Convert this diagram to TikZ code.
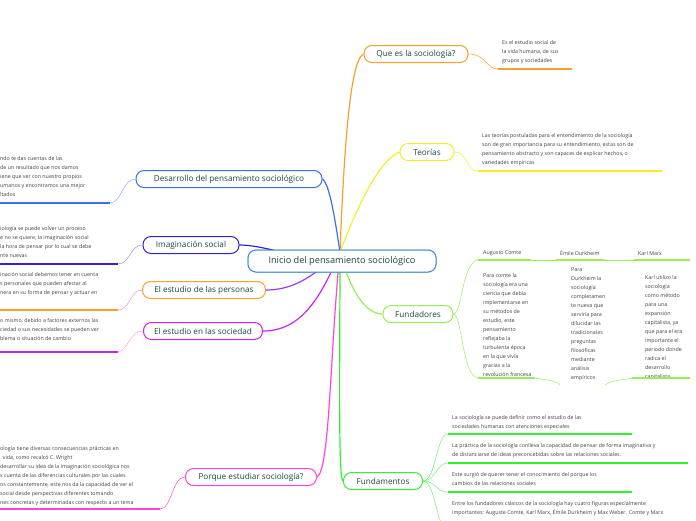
\documentclass[tikz,border=0pt]{standalone}
\usepackage{fontspec}
\setmainfont{Open Sans}
\usetikzlibrary{positioning}
\definecolor{cblue}{HTML}{3A70EE}
\definecolor{cindigo}{HTML}{3322DD}
\definecolor{corange}{HTML}{F7A12B}
\definecolor{cpurple}{HTML}{CC22EE}
\definecolor{cpink}{HTML}{FF44DD}
\definecolor{cyellow}{HTML}{F2EE2A}
\definecolor{clime}{HTML}{99EE55}
\definecolor{cgreen}{HTML}{33EE33}
\definecolor{croot}{HTML}{4A90D0}
\definecolor{ctext}{HTML}{1B4A3C}
\tikzset{topic/.style={draw,rounded corners=8pt,line width=1pt,fill=white,
                       text=ctext,font=\fontsize{8.2}{9}\selectfont,minimum height=17pt,inner xsep=8pt}}
\tikzset{leaf/.style={anchor=north west,align=left,inner sep=0pt,text=black!75,
                      font=\fontsize{5.3}{9}\selectfont}}

\begin{document}
\begin{tikzpicture}[x=1pt,y=-1pt,
    branch/.style={line width=1.2pt},
    twig/.style={line width=0.5pt},
    bar/.style={line width=1.6pt}
  ]
    \useasboundingbox (0,0) rectangle (696,520);
    \coordinate (hub) at (340,252);
    \coordinate (hubl) at (300,258);

    % topics
    \node[topic,draw=croot,minimum width=188pt,minimum height=22pt,font=\fontsize{9.2}{10}\selectfont] (main) at (342,261) {Inicio del pensamiento sociológico};
    \node[topic,draw=corange,minimum width=104pt] (que) at (416,54) {Que es la sociología?};
    \node[topic,draw=cyellow,minimum width=54pt] (teo) at (427,152) {Teorías};
    \node[topic,draw=clime,minimum width=70pt] (fundad) at (418,314) {Fundadores};
    \node[topic,draw=cgreen,minimum width=79pt] (fundam) at (383,481) {Fundamentos};
    \node[topic,draw=cblue,minimum width=186pt] (desa) at (229,179) {Desarrollo del pensamiento sociológico};
    \node[topic,draw=cindigo,minimum width=96pt] (imag) at (191,245) {Imaginación social};
    \node[topic,draw=corange,minimum width=123pt] (pers) at (204,290) {El estudio de las personas};
    \node[topic,draw=cpurple,minimum width=119pt] (soc) at (203,331) {El estudio en las sociedad};
    \node[topic,draw=cpink,minimum width=131pt] (porq) at (251,477) {Porque estudiar sociología?};

    % branches from the centre
    \draw[branch,corange] (hub) .. controls (344,150) and (350,60) .. (que.west);
    \draw[branch,cyellow] (hub) .. controls (360,200) and (380,160) .. (teo.west);
    \draw[branch,clime] (hub) .. controls (350,290) and (365,314) .. (fundad.west);
    \draw[branch,cgreen] (hub) .. controls (340,350) and (338,481) .. (fundam.west);
    \draw[branch,cblue] (hub) .. controls (335,220) and (330,185) .. (desa.east);
    \draw[branch,cindigo] (hubl) .. controls (270,248) and (250,245) .. (imag.east);
    \draw[branch,cpurple!70!cblue] (hub) .. controls (310,280) and (290,290) .. (pers.east);
    \draw[branch,cpurple] (hub) .. controls (320,300) and (300,331) .. (soc.east);
    \draw[branch,cpink] (hub) .. controls (330,350) and (330,470) .. (porq.east);
    \node[topic,draw=croot,minimum width=188pt,minimum height=22pt,font=\fontsize{9.2}{10}\selectfont] (mainfront) at (main) {Inicio del pensamiento sociológico};

    % right side leaves
    \node[leaf] (queT) at (502,40) {Es el estudio social de\\la vida humana, de sus\\grupos y sociedades};
    \coordinate (queA) at (498,69); \coordinate (queB) at (572,69);
    \draw[twig,corange] (que.east) .. controls (486,54) and (486,69) .. (queA);
    \draw[bar,corange] (queA) -- (queB);

    \node[leaf] (teoT) at (482,133) {Las teorías postuladas para el entendimiento de la sociología\\son de gran importancia para su entendimiento, estas son de\\pensamiento abstracto y son capaces de explicar hechos, o\\variedades  empíricas};
    \coordinate (teoA) at (478,171); \coordinate (teoB) at (662,171);
    \draw[twig,cyellow] (teo.east) .. controls (468,152) and (466,171) .. (teoA);
    \draw[bar,cyellow] (teoA) -- (teoB);

    % founders
    \node[leaf] (comte) at (483,250) {Augusto Comte};
    \node[leaf] (durk) at (560,250) {Émile Durkheim};
    \node[leaf] (marx) at (638,251) {Karl Marx};
    \draw[bar,clime] (478,260) -- (531,260);
    \draw[bar,clime] (556,260) -- (604,260);
    \draw[bar,clime] (634,260) -- (690,260);
    \draw[twig,clime] (531,260) -- (556,260) (604,260) -- (634,260);
    \node[leaf] (comteT) at (483,273) {Para comte la\\sociología era una\\ciencia que debía\\implementarse en\\su métodos de\\estudio, este\\pensamiento\\reflejaba la\\turbulenta época\\en la que vivía\\gracias a la\\revolución francesa};
    \node[leaf] (durkT) at (571,268) {Para\\Durkheim la\\sociología\\completamen\\te nueva que\\serviría para\\dilucidar las\\tradicionales\\preguntas\\filosóficas\\mediante\\análisis\\empíricos};
    \node[leaf] (marxT) at (645,275) {Karl utilizo la\\sociología\\como método\\para una\\expansión\\capitalista, ya\\que para el era\\importante el\\periodo donde\\radica el\\desarrollo\\capitalista};
    \draw[bar,clime] (478,378) -- (535,378);
    \draw[bar,clime] (632,378) -- (690,378);
    \draw[twig,clime] (535,378) .. controls (545,380) and (555,380) .. (560,385);
    \draw[twig,clime] (632,378) .. controls (622,380) and (612,380) .. (605,385);
    \draw[twig,clime] (fundad.east) .. controls (462,314) and (462,262) .. (478,260);
    \draw[twig,clime] (fundad.east) .. controls (462,314) and (462,376) .. (478,378);

    % fundamentos
    \node[leaf] (f1) at (452,415) {La sociología se puede definir como el estudio de las\\sociedades humanas con atenciones especiales};
    \node[leaf] (f2) at (452,443) {La práctica de la sociología conlleva la capacidad de pensar de forma imaginativa y\\de distanciarse de ideas preconcebidas sobre las relaciones sociales.};
    \node[leaf] (f3) at (452,472) {Este surgió de querer tener el conocimiento del porque los\\cambios de las relaciones sociales};
    \node[leaf] (f4) at (452,501) {Entre los fundadores clásicos de la sociología hay cuatro figuras especialmente\\importantes: Auguste Comte, Karl Marx, Émile Durkheim y Max Weber. Comte y Marx};
    \draw[bar,cgreen] (448,434) -- (632,434);
    \draw[bar,cgreen] (448,463) -- (688,463);
    \draw[bar,cgreen] (448,492) -- (632,492);
    \foreach \y in {434,463,492,530}
      \draw[twig,cgreen!70!white] (fundam.east) .. controls (436,481) and (436,\y) .. (448,\y);

    % left side leaves
    \node[leaf] (desaT) at (0,156) {ndo te das cuentas de las\\de un resultado que nos damos\\iene que ver con nuestro propios\\umanos y encontramos una mejor\\ltados};
    \draw[twig,cblue!60!white] (desa.west) .. controls (122,179) and (122,203) .. (110,203);
    \draw[bar,cblue] (110,203) -- (0,203);

    \node[leaf] (imagT) at (0,226) {iología se puede volver un proceso\\e no se quiere, la imaginación social\\ la hora de pensar por lo cual se debe\\nte nuevas};
    \draw[twig,cindigo!50!white] (imag.west) .. controls (130,245) and (130,264) .. (118,264);
    \draw[bar,cindigo] (118,264) -- (0,264);

    \node[leaf] (persT) at (0,272) {inación social debemos tener en cuenta\\s personales que pueden afectar al\\nera en su forma de pensar y actuar en};
    \draw[twig,cpurple!50!white] (pers.west) .. controls (130,290) and (130,310) .. (118,310);
    \draw[bar,corange] (118,310) -- (0,310);

    \node[leaf] (socT) at (0,318) {o mismo, debido a factores externos las\\ciedad o sus necesidades se pueden ver\\blema o situación de cambio};
    \draw[twig,cpink!50!white] (soc.west) .. controls (130,331) and (128,350) .. (118,352);
    \draw[bar,cpurple] (118,352) -- (0,352);

    \node[leaf] (porqT) at (0,446) {ología tiene diversas consecuencias prácticas en\\\ \ vida, como recalcó C. Wright\\desarrollar su idea de la imaginación sociológica nos\\s cuenta de las diferencias culturales por las cuales\\os constantemente, este nos da la capacidad de ver el\\social desde perspectivas diferentes tomando\\nes concretas y determinadas con respecto a un tema};
    \draw[twig,cpink] (porq.west) .. controls (172,477) and (172,509) .. (160,509);
    \draw[bar,cpink] (160,509) -- (0,509);
  \end{tikzpicture}
\end{document}
